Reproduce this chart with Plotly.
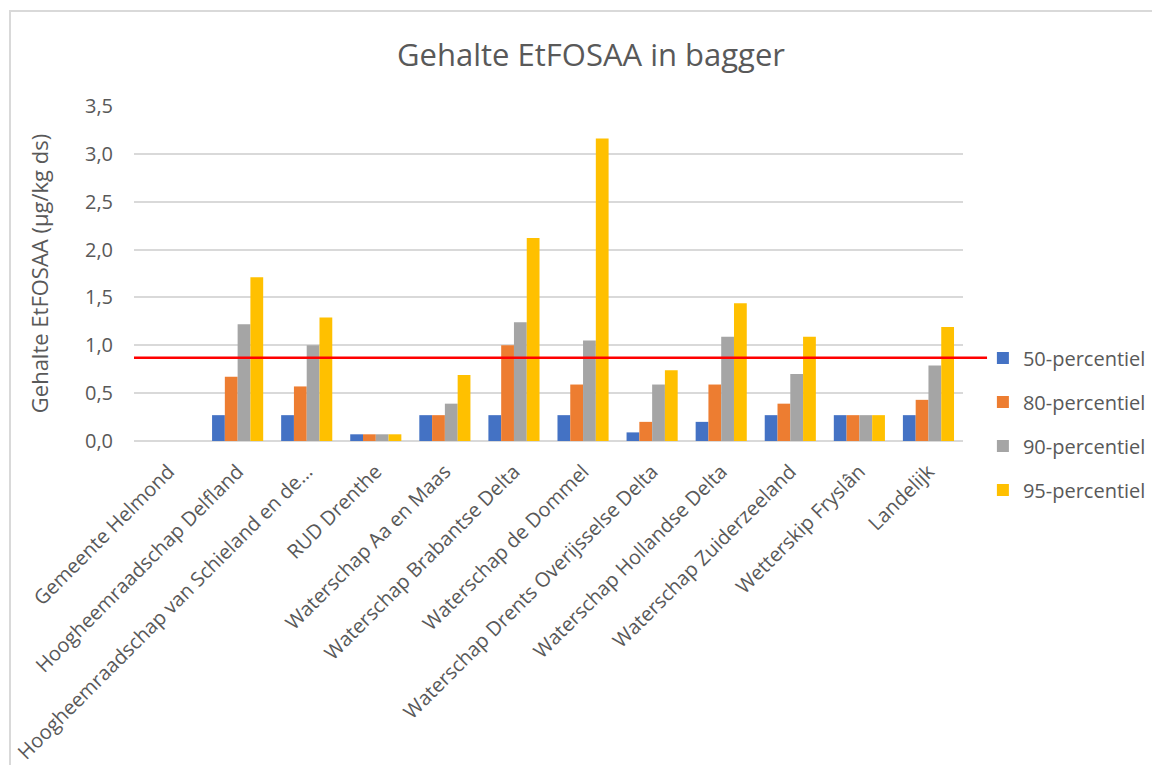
import plotly.graph_objects as go

categories = [
    "Gemeente Helmond",
    "Hoogheemraadschap Delfland",
    "Hoogheemraadschap van Schieland en de…",
    "RUD Drenthe",
    "Waterschap Aa en Maas",
    "Waterschap Brabantse Delta",
    "Waterschap de Dommel",
    "Waterschap Drents Overijsselse Delta",
    "Waterschap Hollandse Delta",
    "Waterschap Zuiderzeeland",
    "Wetterskip Fryslân",
    "Landelijk",
]

p50 = [None, 0.27, 0.27, 0.07, 0.27, 0.27, 0.27, 0.09, 0.20, 0.27, 0.27, 0.27]
p80 = [None, 0.67, 0.57, 0.07, 0.27, 1.00, 0.59, 0.20, 0.59, 0.39, 0.27, 0.43]
p90 = [None, 1.22, 1.00, 0.07, 0.39, 1.24, 1.05, 0.59, 1.09, 0.70, 0.27, 0.79]
p95 = [None, 1.71, 1.29, 0.07, 0.69, 2.12, 3.16, 0.74, 1.44, 1.09, 0.27, 1.19]

series_names = ["50-percentiel", "80-percentiel", "90-percentiel", "95-percentiel"]
series_colors = ["#4472C4", "#ED7D31", "#A5A5A5", "#FFC000"]
threshold = 0.87

FONT = "Open Sans"
TXT = "#595959"

# page body has an 8px margin; figure is sized/positioned to compensate
W, H = 1152, 757
L, T, R, B = 126, 98, 197, 324
PW = W - L - R
PH = H - T - B

fig = go.Figure()
for name, vals, col in zip(series_names, [p50, p80, p90, p95], series_colors):
    fig.add_trace(go.Bar(
        x=categories, y=vals, name=name, marker=dict(color=col, line=dict(width=0)),
        legendgroup=name,
    ))

fig.add_shape(type="line", xref="paper", yref="y", x0=0, x1=1.029,
              y0=threshold, y1=threshold, line=dict(color="#FF0000", width=2.5))

# outer chart border
fig.add_shape(type="rect", xref="paper", yref="paper",
              x0=(2 - L) / PW, x1=(W + 20 - L) / PW,
              y0=-(H + 20 - T - PH) / PH, y1=(T + PH - 3) / PH,
              line=dict(color="#D9D9D9", width=2), layer="below")

fig.update_layout(
    width=W, height=H,
    margin=dict(l=L, r=R, t=T, b=B, autoexpand=False),
    paper_bgcolor="white", plot_bgcolor="white",
    separators=",.",
    font=dict(family=FONT, color=TXT, size=20),
    title=dict(text="Gehalte EtFOSAA in bagger", x=583 / W, xref="container", xanchor="center",
               y=1 - 47 / H, yref="container", yanchor="middle",
               font=dict(size=31, color=TXT, family=FONT)),
    barmode="group", bargap=0.26, bargroupgap=0,
    showlegend=True,
    legend=dict(x=1.024, xanchor="left", y=0.306, yanchor="top",
                font=dict(size=20, color=TXT, family=FONT),
                tracegroupgap=15, itemwidth=30, bgcolor="rgba(0,0,0,0)"),
    xaxis=dict(tickangle=-45, showgrid=False, showline=False, ticks="",
               ticklabelstandoff=14,
               tickfont=dict(size=20, color=TXT, family=FONT)),
    yaxis=dict(range=[0, 3.5], dtick=0.5, tickformat=".1f", showgrid=True,
               gridcolor="#D9D9D9", gridwidth=1.5, zeroline=True, zerolinecolor="#D9D9D9",
               zerolinewidth=1.5, showline=False, ticks="",
               ticklabelstandoff=20,
               tickfont=dict(size=20, color=TXT, family=FONT),
               title=dict(text="Gehalte EtFOSAA (µg/kg ds)", standoff=30,
                          font=dict(size=22, color=TXT, family=FONT))),
)

fig.write_html("out.html")
